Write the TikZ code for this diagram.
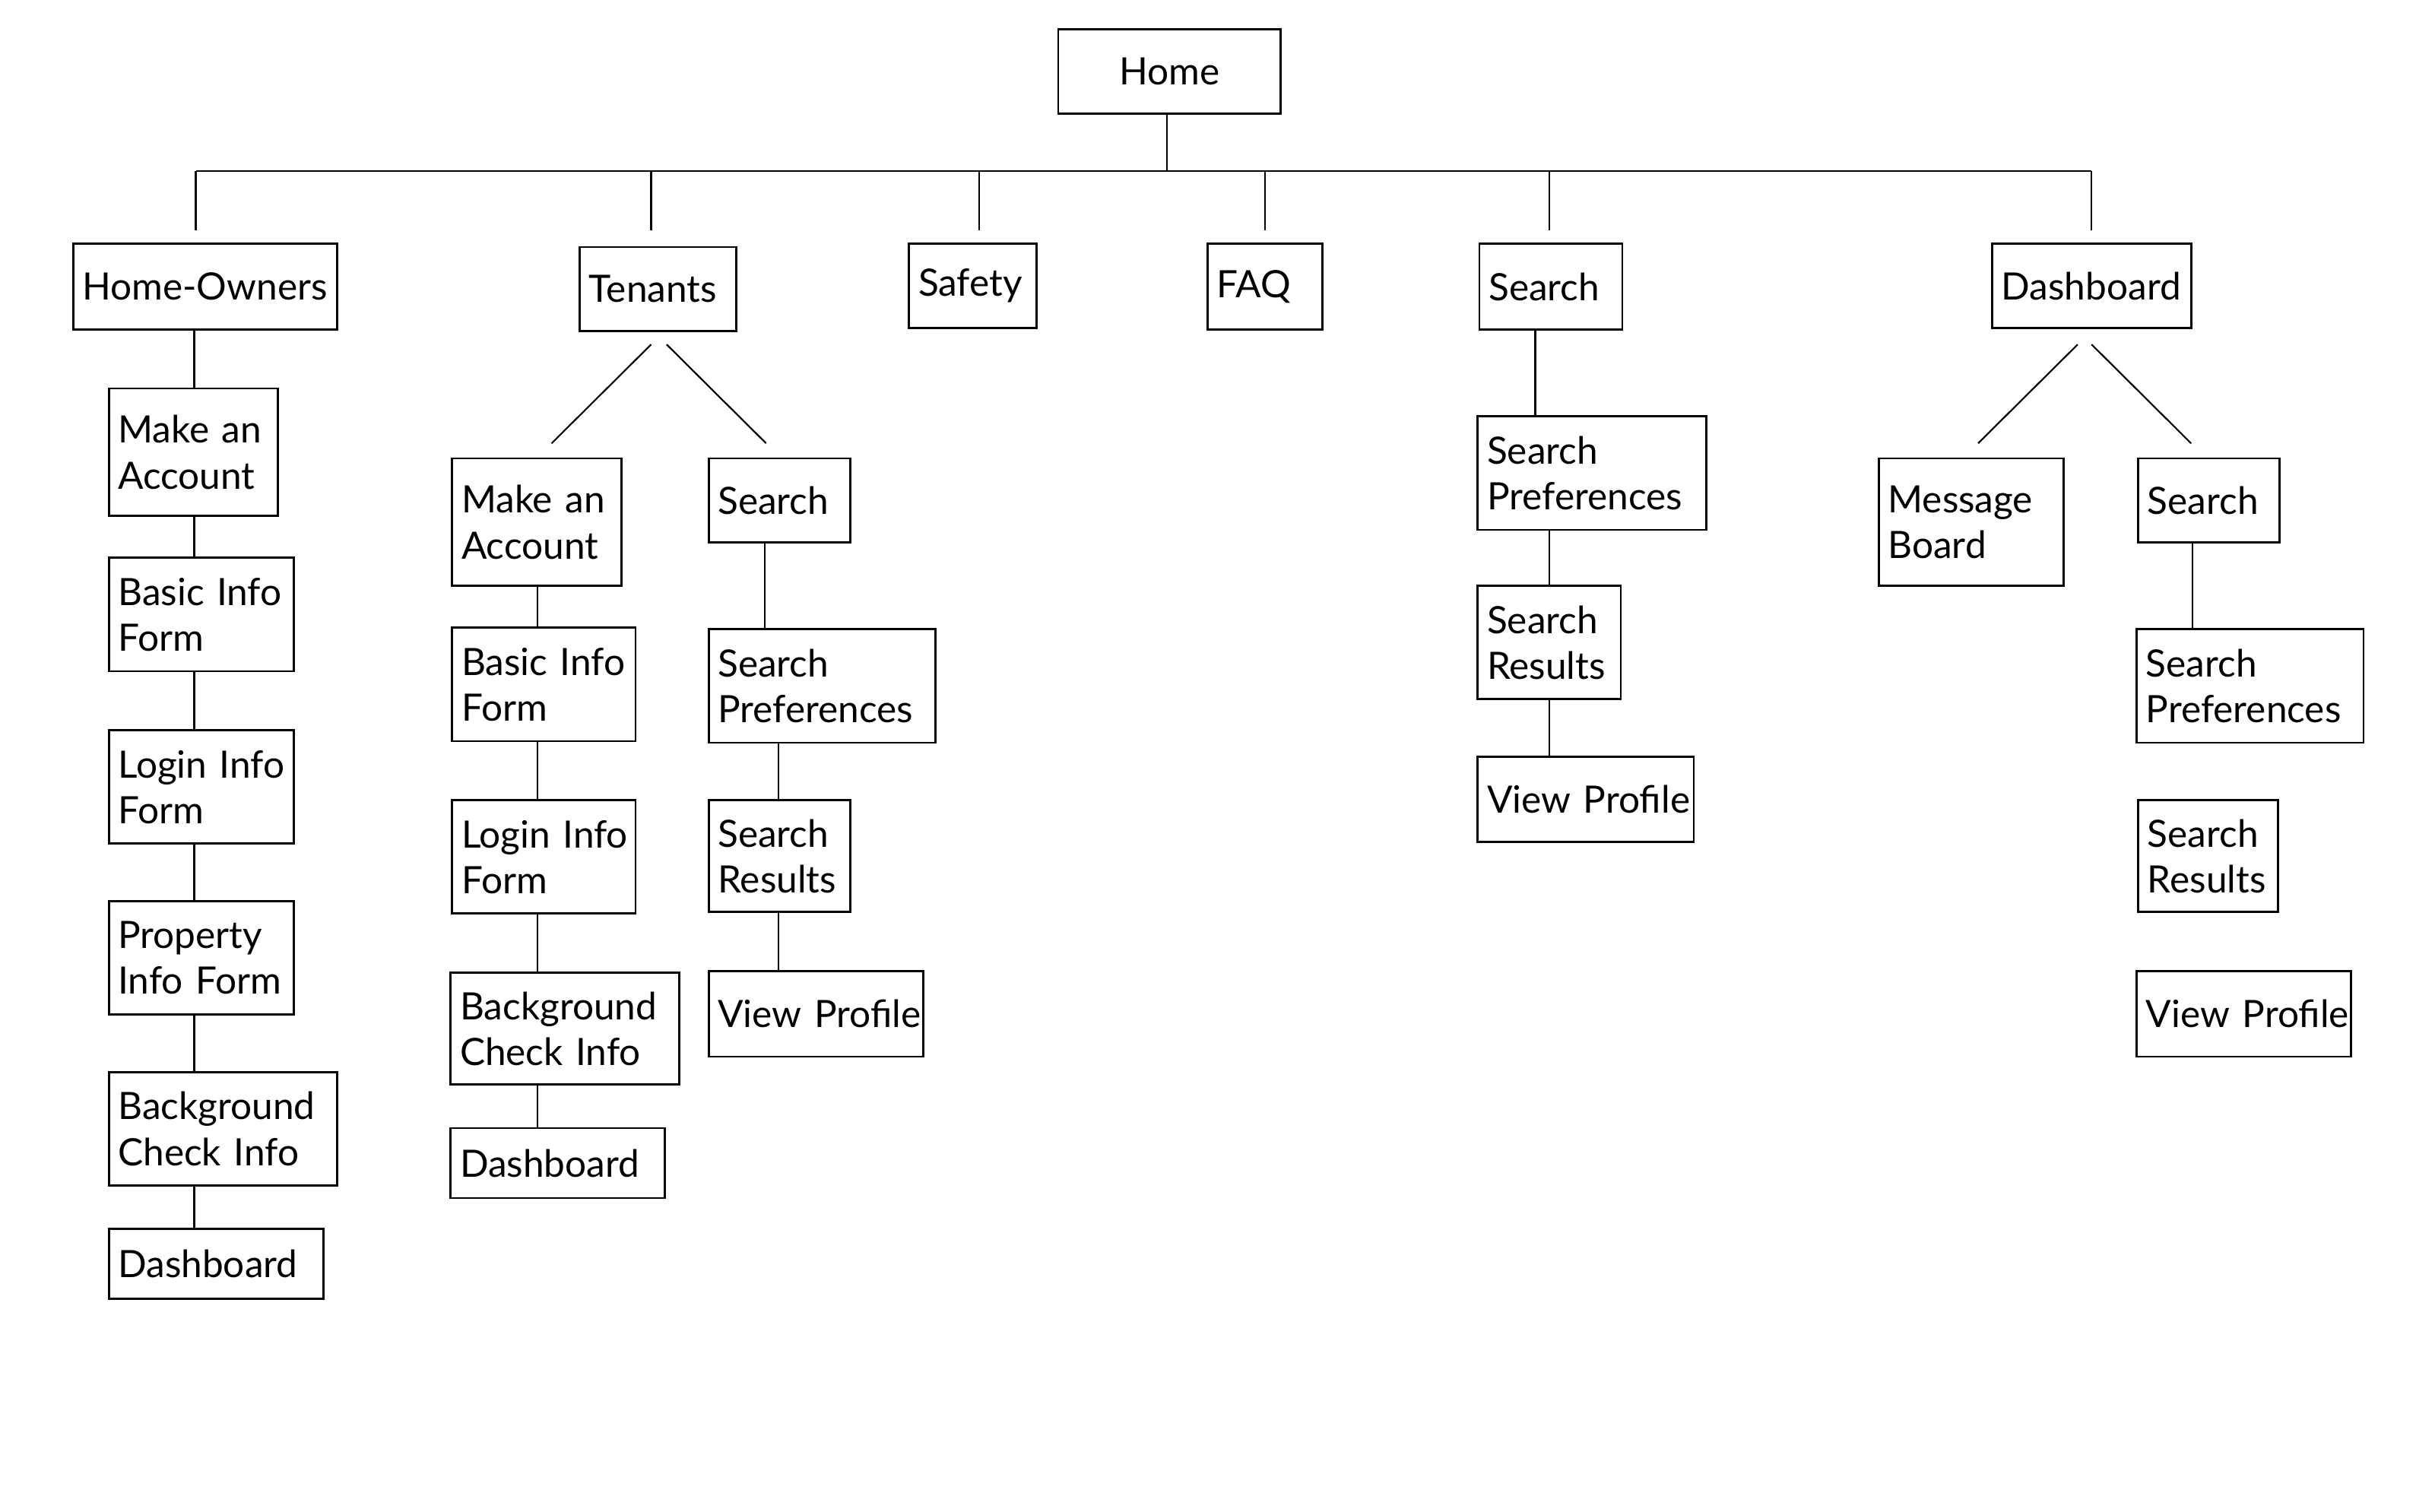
\documentclass[tikz,border=0pt]{standalone}
\usepackage{fontspec}
\setmainfont{Lato}
\usetikzlibrary{calc}
\hyphenpenalty=10000
\exhyphenpenalty=10000

% one page box: name, left, top, right, bottom, text
\newcommand{\pagenode}[6]{
    \pgfmathsetmacro\bw{(#4-#2-12)*0.02}
    \pgfmathsetmacro\bh{(#5-#3)*0.02}
    \node[page, text width=\bw cm, minimum height=\bh cm] (#1) at ({(#2+#4)/2}, {(#3+#5)/2}) {#6};
}

\begin{document}
\begin{tikzpicture}[x=0.02cm, y=-0.02cm,
        page/.style={draw, line width=0.8pt, align=left, inner xsep=0.12cm, inner ysep=0pt,
            font=\fontsize{13.8}{16.8}\selectfont},
        link/.style={line width=0.6pt}]
    \useasboundingbox (0, 0) rectangle (1567, 973);

    \node[page, align=center, minimum width=2.86cm, minimum height=1.08cm] (home) at (752.5, 46) {Home};

    % first level
    \pagenode{ho}{47}{157}{217}{212}{\mbox{Home-Owners}}
    \pagenode{ten}{373}{159}{474}{213}{Tenants}
    \pagenode{safety}{585}{157}{667}{211}{Safety}
    \pagenode{faq}{777}{157}{851}{212}{FAQ}
    \pagenode{search}{952}{157}{1044}{212}{Search}
    \pagenode{dash}{1282}{157}{1410}{211}{Dashboard}

    % home-owners
    \pagenode{hoMake}{70}{250}{179}{332}{Make~an\\Account}
    \pagenode{hoBasic}{70}{359}{189}{432}{Basic~Info\\Form}
    \pagenode{hoLogin}{70}{470}{189}{543}{Login~Info\\Form}
    \pagenode{hoProp}{70}{580}{189}{653}{Property\\Info~Form}
    \pagenode{hoBack}{70}{690}{217}{763}{Background\\Check~Info}
    \pagenode{hoDash}{70}{791}{208}{836}{Dashboard}

    % tenants
    \pagenode{tMake}{291}{295}{400}{377}{Make~an\\Account}
    \pagenode{tBasic}{291}{404}{409}{477}{Basic~Info\\Form}
    \pagenode{tLogin}{291}{515}{409}{588}{Login~Info\\Form}
    \pagenode{tBack}{290}{626}{437}{698}{Background\\Check~Info}
    \pagenode{tDash}{290}{726}{428}{771}{Dashboard}
    \pagenode{tSearch}{456}{295}{547}{349}{Search}
    \pagenode{tPref}{456}{405}{602}{478}{Search\\Preferences}
    \pagenode{tRes}{456}{515}{547}{587}{Search\\Results}
    \pagenode{tView}{456}{625}{594}{680}{\mbox{View Profile}}

    % search
    \pagenode{sPref}{951}{268}{1098}{341}{Search\\Preferences}
    \pagenode{sRes}{951}{377}{1043}{450}{Search\\Results}
    \pagenode{sView}{951}{487}{1090}{542}{\mbox{View Profile}}

    % dashboard
    \pagenode{dMsg}{1209}{295}{1328}{377}{Message\\Board}
    \pagenode{dSearch}{1376}{295}{1467}{349}{Search}
    \pagenode{dPref}{1375}{405}{1521}{478}{Search\\Preferences}
    \pagenode{dRes}{1376}{515}{1466}{587}{Search\\Results}
    \pagenode{dView}{1375}{625}{1513}{680}{\mbox{View Profile}}

    % bus under home
    \coordinate (bus) at (751, 110);
    \coordinate (busL) at (126, 110);
    \coordinate (busR) at (1346, 110);
    \draw[link] (home.south -| bus) -- (bus);
    \draw[link] (busL) -- (busR);
    \foreach \x in {126, 419, 630, 814, 997, 1346}
        \draw[link] (bus -| \x,0) -- ++(0, 38);

    % columns
    \coordinate (hoCol) at (125, 0);
    \coordinate (tCol) at (346, 0);
    \coordinate (tsCol) at (501, 0);
    \coordinate (sCol) at (997, 0);
    \foreach \a/\b in {ho/hoMake, hoMake/hoBasic, hoBasic/hoLogin, hoLogin/hoProp, hoProp/hoBack, hoBack/hoDash}
        \draw[link] (\a.south -| hoCol) -- (\b.north -| hoCol);
    \foreach \a/\b in {tMake/tBasic, tBasic/tLogin, tLogin/tBack, tBack/tDash}
        \draw[link] (\a.south -| tCol) -- (\b.north -| tCol);
    \foreach \a/\b in {tPref/tRes, tRes/tView}
        \draw[link] (\a.south -| tsCol) -- (\b.north -| tsCol);
    \foreach \a/\b in {sPref/sRes, sRes/sView}
        \draw[link] (\a.south -| sCol) -- (\b.north -| sCol);
    \draw[link] (tSearch.south -| 492,0) -- (tPref.north -| 492,0);
    \draw[link] (search.south -| 988,0) -- (sPref.north -| 988,0);
    \draw[link] (dSearch.south -| 1411,0) -- (dPref.north -| 1411,0);

    % split lines
    \draw[link] ($(ten.south)+(-4.5, 8)$) -- ($(tMake.north)+(9.5, -9)$);
    \draw[link] ($(ten.south)+(5.5, 8)$) -- ($(tSearch.north)+(-8.5, -9)$);
    \draw[link] ($(dash.south)+(-9, 10)$) -- ($(dMsg.north)+(4.5, -9)$);
    \draw[link] ($(dash.south)+(0, 10)$) -- ($(dSearch.north)+(-11.5, -9)$);
\end{tikzpicture}
\end{document}
